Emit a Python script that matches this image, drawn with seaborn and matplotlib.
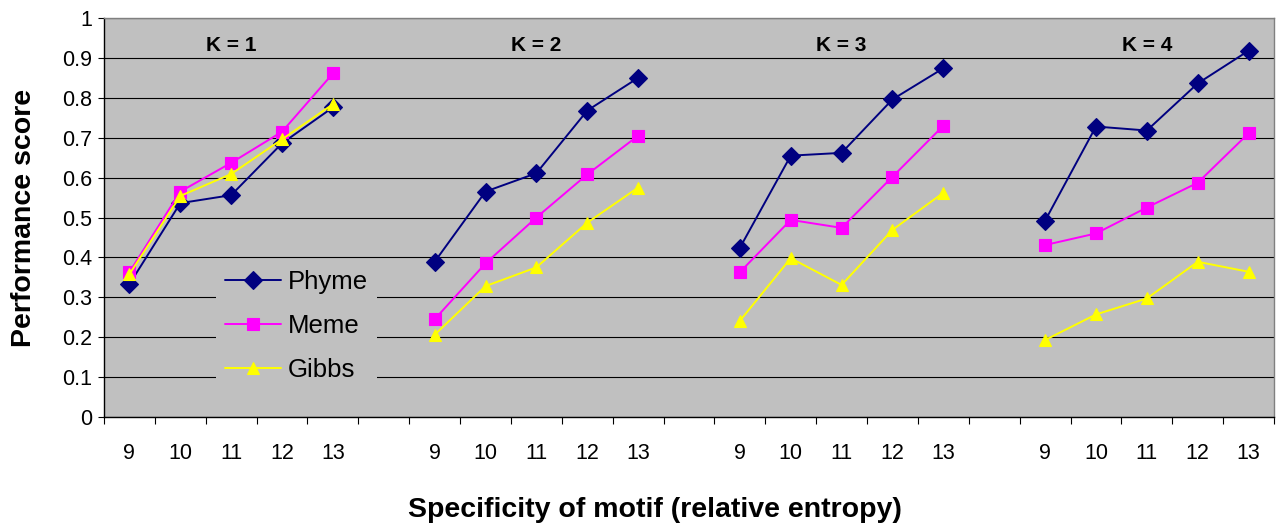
import matplotlib
matplotlib.use("Agg")
import matplotlib.pyplot as plt
import matplotlib.transforms as mtransforms
import numpy as np
import pandas as pd
import seaborn as sns

# chart values
k_values = [1, 2, 3, 4]
specificity = [9, 10, 11, 12, 13]
methods = ["Phyme", "Meme", "Gibbs"]

phyme = [
    [0.333, 0.536, 0.556, 0.686, 0.776],
    [0.389, 0.565, 0.611, 0.768, 0.850],
    [0.424, 0.655, 0.662, 0.796, 0.874],
    [0.492, 0.728, 0.718, 0.836, 0.918],
]
meme = [
    [0.363, 0.565, 0.637, 0.715, 0.861],
    [0.245, 0.385, 0.500, 0.608, 0.705],
    [0.363, 0.494, 0.474, 0.602, 0.730],
    [0.431, 0.460, 0.525, 0.587, 0.711],
]
gibbs = [
    [0.358, 0.554, 0.609, 0.696, 0.784],
    [0.206, 0.328, 0.375, 0.487, 0.575],
    [0.241, 0.398, 0.331, 0.469, 0.562],
    [0.193, 0.257, 0.297, 0.389, 0.364],
]

palette = {"Phyme": "#000080", "Meme": "#FF00FF", "Gibbs": "#FFFF00"}
markers = {"Phyme": "D", "Meme": "s", "Gibbs": "^"}

# long table; one blank slot between K groups on the category axis
slots_per_group = len(specificity) + 1
rows = []
for gi, k in enumerate(k_values):
    for ci, spec in enumerate(specificity):
        pos = gi * slots_per_group + ci
        for name, vals in zip(methods, [phyme, meme, gibbs]):
            rows.append({"pos": pos, "spec": spec, "K": k,
                         "method": name, "score": vals[gi][ci]})
df = pd.DataFrame(rows)
n_slots = len(k_values) * slots_per_group - 1

sns.set_style("white")
plt.rcParams["font.family"] = ["Liberation Sans", "DejaVu Sans"]
plt.rcParams.update({"text.color": "black", "axes.labelcolor": "black",
                     "xtick.color": "black", "ytick.color": "black"})

fig = plt.figure(figsize=(12.76, 5.25), dpi=100)
ax = fig.add_axes([104 / 1276, 1 - 417 / 525, 1170 / 1276, 399 / 525])
ax.set_facecolor("#C0C0C0")

sns.lineplot(data=df, x="pos", y="score", hue="method", style="method",
             units="K", estimator=None, palette=palette, markers=markers,
             dashes=False, hue_order=methods, style_order=methods,
             linewidth=1.4, markersize=9, markeredgewidth=0.8, ax=ax)
for line in ax.lines:
    line.set_markeredgecolor(line.get_color())

ax.set_xlim(-0.5, n_slots - 0.5)
ax.set_ylim(0, 1)
ax.set_yticks(np.arange(0, 1.01, 0.1))
ax.set_yticklabels(["0"] + [f"{v:.1f}" for v in np.arange(0.1, 0.95, 0.1)] + ["1"])
ax.yaxis.grid(True, color="black", linewidth=0.8)
ax.set_axisbelow(True)

centers = df.drop_duplicates("pos")
ax.set_xticks(centers["pos"])
ax.set_xticklabels(centers["spec"])
ax.set_xticks(np.arange(-0.5, n_slots, 1), minor=True)
ax.tick_params(axis="x", which="major", length=0, pad=19, labelsize=15.5)
ax.tick_params(axis="x", which="minor", length=5, width=0.8, color="black",
               direction="out", bottom=True)
ax.tick_params(axis="y", length=4.5, width=0.8, color="black", pad=4,
               labelsize=15.5, left=True)

for side in ["top", "right"]:
    ax.spines[side].set_color("#808080")
for side in ["left", "bottom"]:
    ax.spines[side].set_color("black")
for sp in ax.spines.values():
    sp.set_linewidth(1.0)

trans = mtransforms.blended_transform_factory(ax.transData, ax.transAxes)
for gi, k in enumerate(k_values):
    mid = gi * slots_per_group + (len(specificity) - 1) / 2
    ax.text(mid, 0.932, f"K = {k}", transform=trans, ha="center", va="center",
            fontsize=15, fontweight="bold")

ax.set_xlabel("Specificity of motif (relative entropy)", fontsize=20.5,
              fontweight="bold")
ax.set_ylabel("Performance score", fontsize=20.5, fontweight="bold")
ax.xaxis.set_label_coords(0.471, -0.2)
ax.yaxis.set_label_coords(-0.057, 0.5)

handles, labels = ax.get_legend_handles_labels()
leg = ax.legend(handles, labels, loc="upper left", bbox_to_anchor=(0.0957, 0.392),
                fontsize=18.5, frameon=True, facecolor="#C0C0C0", edgecolor="none",
                framealpha=1, fancybox=False, borderpad=0.35, borderaxespad=0,
                handlelength=2.2, handletextpad=0.25, labelspacing=0.78)

fig.savefig("out.png", dpi=100)
